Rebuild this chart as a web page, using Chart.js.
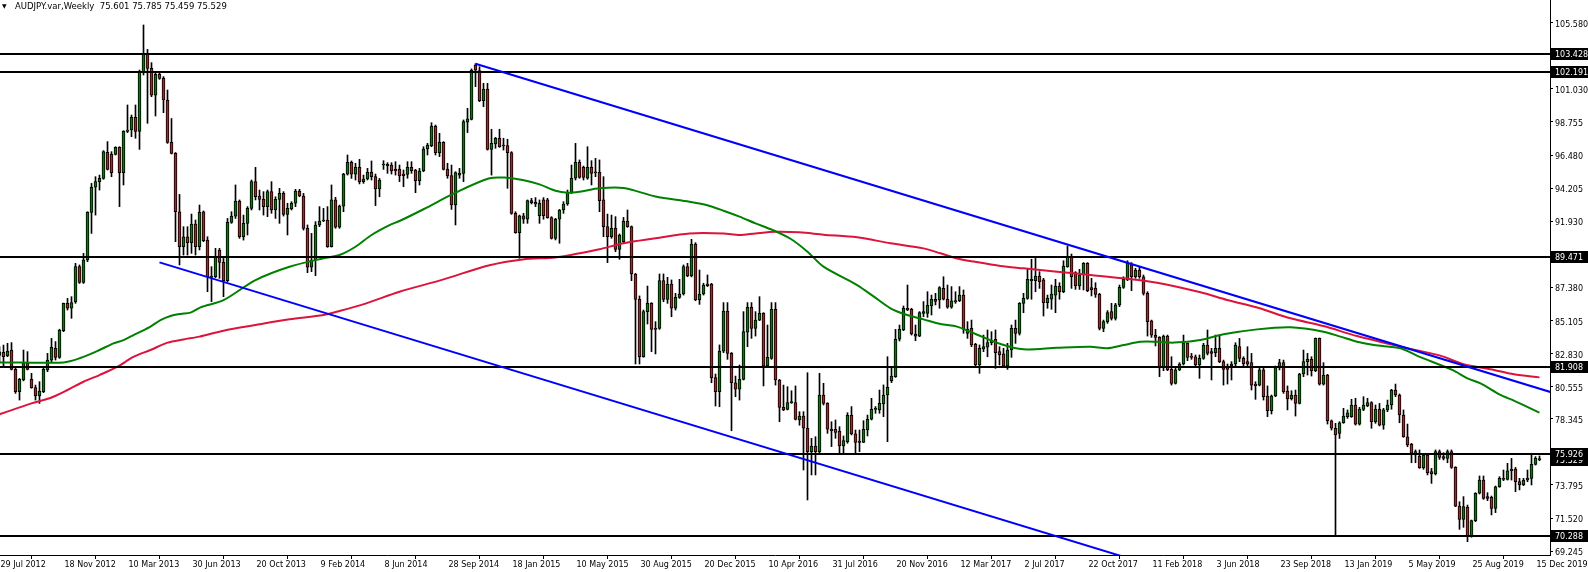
<!DOCTYPE html>
<html>
<head>
<meta charset="utf-8">
<title>AUDJPY.var Weekly</title>
<script src="https://cdn.jsdelivr.net/npm/chart.js@4.4.1/dist/chart.umd.min.js"></script>
<style>
  html, body { margin: 0; padding: 0; background: #fff; }
  #wrap { position: relative; width: 1588px; height: 572px; }
  #header {
    position: absolute; left: 15px; top: 0; line-height: 12px;
    font-family: "DejaVu Sans", sans-serif; font-size: 8.5px; color: #000; white-space: pre;
  }
  #tri {
    position: absolute; left: 2px; top: 0; line-height: 12px;
    font-family: "DejaVu Sans", sans-serif; font-size: 6px; color: #000;
  }
</style>
</head>
<body>
<div id="wrap">
  <canvas id="chart" width="1588" height="572"></canvas>
  <div id="tri">▼</div>
  <div id="header">AUDJPY.var,Weekly  75.601 75.785 75.459 75.529</div>
</div>
<script>
// weekly bars, index 0 = week of 29 Jul 2012
const xTickBars = [0, 16, 32, 48, 64, 80, 96, 112, 128, 144, 160, 176, 192, 208, 224, 240, 256, 272, 288, 304, 320, 336, 352, 368, 384];
const xTickLabels = ['29 Jul 2012', '18 Nov 2012', '10 Mar 2013', '30 Jun 2013', '20 Oct 2013', '9 Feb 2014', '8 Jun 2014',
  '28 Sep 2014', '18 Jan 2015', '10 May 2015', '30 Aug 2015', '20 Dec 2015', '10 Apr 2016', '31 Jul 2016', '20 Nov 2016',
  '12 Mar 2017', '2 Jul 2017', '22 Oct 2017', '11 Feb 2018', '3 Jun 2018', '23 Sep 2018', '13 Jan 2019', '5 May 2019',
  '25 Aug 2019', '15 Dec 2019'];
const yTickValues = [105.580, 101.030, 98.755, 96.480, 94.205, 91.930, 87.380, 85.105, 82.830, 80.555, 78.345, 73.795, 71.520, 69.245];
const levels = [103.428, 102.191, 89.471, 81.908, 75.926, 70.288];
const bidPrice = 75.529;

const opens = [
  82.70, 82.91, 82.66, 83.07, 81.74, 80.21, 81.01, 82.15, 81.05, 80.48,
  79.91, 80.21, 81.70, 82.38, 83.19, 82.57, 84.40, 86.28, 85.94, 86.39,
  88.80, 87.72, 89.26, 92.54, 94.26, 94.65, 94.87, 96.66, 96.52, 96.52,
  97.00, 95.26, 98.11, 98.20, 99.07, 98.11, 102.21, 103.40, 102.44, 100.60,
  102.03, 101.75, 100.26, 97.35, 96.59, 92.58, 90.18, 90.86, 90.45, 91.73,
  90.18, 92.58, 90.63, 88.11, 88.11, 89.95, 89.10, 87.84, 91.85, 92.28,
  93.32, 90.86, 91.78, 92.81, 94.65, 93.66, 93.43, 92.93, 93.96, 92.70,
  93.43, 93.84, 92.40, 92.77, 93.16, 94.00, 93.66, 91.44, 88.76, 89.26,
  91.67, 91.94, 92.01, 90.18, 93.39, 91.51, 92.97, 95.17, 95.98, 95.17,
  95.63, 94.65, 94.83, 95.29, 94.99, 94.14, 95.79, 95.75, 95.79, 95.49,
  95.52, 95.17, 95.15, 95.63, 95.45, 94.72, 95.38, 96.89, 97.10, 98.47,
  96.64, 97.35, 95.52, 95.06, 93.04, 95.10, 95.22, 98.73, 98.93, 102.67,
  102.28, 100.22, 101.02, 96.87, 97.24, 97.63, 97.12, 97.12, 96.64, 92.47,
  91.14, 92.29, 92.06, 93.34, 93.22, 92.31, 93.39, 93.39, 92.17, 90.75,
  92.06, 92.70, 93.11, 93.89, 94.88, 95.98, 95.63, 94.88, 95.63, 95.26,
  95.29, 93.39, 91.55, 90.86, 91.44, 89.99, 90.52, 91.94, 91.55, 88.30,
  86.55, 82.61, 85.71, 86.28, 84.56, 84.56, 87.84, 86.55, 87.61, 85.94,
  86.69, 86.92, 88.80, 88.16, 90.36, 86.51, 86.92, 87.61, 87.61, 81.17,
  80.21, 83.00, 85.75, 82.84, 80.82, 80.37, 81.05, 84.29, 86.00, 84.56,
  85.13, 85.59, 81.97, 82.50, 85.87, 81.01, 79.13, 78.99, 79.45, 79.45,
  78.26, 78.53, 77.69, 76.08, 76.47, 76.08, 79.98, 79.40, 77.62, 77.62,
  77.50, 76.47, 76.77, 78.58, 77.30, 76.81, 76.72, 77.57, 78.31, 78.99,
  78.95, 79.36, 79.98, 80.96, 81.24, 83.81, 84.45, 85.94, 85.87, 84.17,
  84.03, 85.59, 85.59, 86.10, 86.56, 86.51, 87.31, 86.56, 86.01, 86.46,
  86.46, 86.85, 84.22, 84.56, 83.46, 82.04, 83.14, 83.26, 83.58, 83.81,
  82.96, 82.80, 81.97, 83.07, 84.56, 84.22, 86.28, 86.62, 87.84, 87.84,
  88.16, 87.89, 86.33, 86.56, 86.85, 87.47, 87.08, 88.80, 89.49, 88.39,
  87.47, 88.23, 89.03, 87.36, 87.31, 86.90, 84.56, 85.02, 85.71, 85.25,
  86.17, 87.38, 87.89, 88.92, 88.11, 88.57, 88.11, 86.97, 85.07, 84.10,
  83.94, 81.93, 84.03, 81.74, 80.78, 81.70, 82.11, 83.53, 82.66, 82.61,
  82.04, 82.50, 83.41, 82.96, 82.89, 83.19, 82.27, 81.97, 81.97, 82.11,
  83.30, 82.50, 82.27, 82.20, 80.73, 80.66, 81.70, 79.91, 78.90, 79.91,
  81.86, 82.20, 80.25, 79.70, 79.98, 79.40, 81.42, 82.27, 82.43, 81.65,
  83.87, 80.73, 81.35, 78.21, 77.69, 77.34, 78.07, 78.49, 78.49, 79.29,
  77.98, 78.99, 79.22, 79.45, 78.14, 79.01, 77.91, 78.95, 79.29, 80.32,
  79.98, 78.60, 77.11, 76.61, 75.85, 75.78, 74.98, 75.85, 74.71, 74.55,
  76.08, 75.74, 75.62, 76.08, 75.00, 72.34, 71.43, 72.25, 70.28, 71.34,
  73.22, 74.13, 72.87, 72.94, 72.18, 73.67, 74.25, 74.18, 74.77, 74.89,
  74.02, 73.79, 74.13, 74.25, 75.21, 75.601
];
const highs = [
  83.30, 83.41, 83.53, 83.58, 81.81, 81.12, 83.07, 82.96, 81.47, 80.66,
  80.89, 81.81, 82.84, 83.87, 83.65, 84.50, 86.30, 86.62, 86.74, 89.03,
  88.92, 89.72, 92.58, 94.53, 94.99, 95.10, 96.78, 97.40, 96.71, 97.05,
  97.05, 98.15, 99.92, 99.23, 99.92, 102.32, 105.42, 103.74, 102.83, 102.21,
  102.14, 101.87, 100.95, 98.99, 96.65, 93.77, 91.55, 91.55, 92.42, 92.01,
  93.04, 92.63, 90.86, 88.80, 90.06, 90.06, 89.37, 92.12, 92.58, 94.42,
  93.39, 92.35, 92.93, 94.76, 95.63, 94.07, 93.96, 94.07, 94.65, 93.61,
  94.19, 93.96, 93.16, 93.27, 94.12, 94.12, 93.84, 91.67, 91.09, 91.90,
  92.93, 92.81, 92.93, 94.42, 93.57, 93.04, 95.22, 96.48, 96.07, 95.91,
  96.18, 95.10, 95.56, 96.07, 95.17, 94.87, 96.09, 95.95, 95.95, 96.02,
  95.79, 95.45, 96.02, 96.02, 95.49, 95.56, 97.05, 97.28, 98.70, 98.54,
  97.97, 97.40, 95.91, 95.79, 95.33, 95.56, 98.89, 99.69, 102.40, 102.76,
  102.55, 101.41, 101.41, 98.25, 97.69, 98.25, 97.63, 97.56, 96.71, 92.58,
  92.35, 92.47, 93.39, 93.50, 93.55, 93.39, 93.55, 93.50, 92.24, 92.13,
  92.74, 93.27, 94.07, 95.79, 97.28, 96.14, 95.72, 97.05, 96.09, 96.25,
  96.14, 94.99, 92.42, 92.35, 92.24, 91.05, 92.19, 92.70, 91.60, 88.34,
  86.79, 85.82, 87.47, 86.33, 85.02, 88.30, 88.30, 88.07, 87.89, 86.97,
  87.93, 88.92, 89.03, 90.68, 90.45, 88.57, 87.66, 88.23, 87.66, 81.42,
  83.42, 86.33, 86.33, 82.90, 81.28, 82.04, 85.71, 86.33, 86.33, 85.71,
  86.74, 85.64, 84.79, 86.33, 86.33, 81.05, 80.66, 80.55, 80.27, 80.60,
  78.83, 78.83, 81.51, 77.00, 77.11, 81.47, 80.78, 79.45, 78.14, 78.26,
  77.80, 77.16, 78.76, 79.18, 77.57, 77.57, 78.21, 78.60, 79.75, 79.18,
  80.32, 80.67, 82.61, 81.81, 84.49, 84.79, 86.10, 87.54, 85.94, 84.79,
  85.71, 86.40, 87.08, 86.85, 86.97, 87.43, 88.11, 87.54, 87.43, 87.08,
  87.43, 87.20, 85.02, 85.13, 83.53, 83.42, 84.10, 84.45, 84.33, 84.45,
  83.30, 83.19, 83.53, 84.79, 85.13, 86.33, 86.97, 88.62, 89.31, 89.37,
  88.46, 88.00, 86.85, 87.54, 87.93, 87.70, 89.21, 90.22, 89.67, 88.46,
  88.62, 89.08, 89.08, 88.00, 87.70, 86.97, 85.13, 85.78, 86.28, 86.28,
  87.54, 88.11, 89.21, 89.08, 88.69, 88.80, 88.23, 87.08, 85.13, 84.49,
  83.99, 84.10, 84.10, 82.61, 81.81, 82.20, 84.10, 83.55, 82.84, 82.73,
  82.73, 83.53, 84.45, 83.19, 84.10, 84.10, 82.38, 82.11, 82.27, 83.57,
  83.87, 82.61, 83.30, 82.84, 80.89, 81.81, 81.81, 80.60, 79.98, 81.97,
  82.43, 82.38, 80.60, 80.27, 80.32, 81.47, 83.07, 82.84, 82.61, 83.90,
  83.90, 82.20, 81.40, 78.26, 78.03, 78.14, 79.06, 78.95, 79.68, 79.75,
  79.13, 79.86, 79.75, 79.52, 79.29, 79.40, 79.06, 79.63, 80.37, 80.73,
  80.05, 78.95, 77.98, 76.65, 76.20, 76.20, 75.92, 75.97, 74.93, 76.20,
  76.20, 76.01, 76.20, 76.20, 75.05, 72.64, 72.99, 72.41, 71.38, 73.26,
  74.41, 74.41, 73.26, 73.03, 73.72, 74.36, 74.82, 75.28, 75.62, 75.00,
  74.25, 74.25, 74.82, 75.97, 75.74, 75.785
];
const lows = [
  82.20, 81.93, 82.61, 81.70, 80.09, 79.63, 80.95, 81.70, 80.44, 79.63,
  79.40, 80.14, 81.58, 82.27, 82.38, 82.50, 84.33, 85.82, 85.25, 86.28,
  87.65, 87.65, 89.14, 91.09, 92.35, 94.07, 94.81, 95.45, 94.99, 96.48,
  92.93, 94.42, 98.02, 97.74, 97.63, 96.87, 101.98, 98.66, 100.49, 99.16,
  101.68, 99.39, 97.28, 96.55, 90.52, 88.92, 89.60, 89.60, 89.72, 89.60,
  89.95, 90.52, 87.08, 86.40, 88.05, 88.00, 86.74, 87.77, 91.78, 92.12,
  90.75, 90.63, 90.98, 92.70, 93.39, 92.70, 92.35, 92.24, 92.47, 92.12,
  91.78, 92.28, 90.98, 92.70, 92.93, 93.61, 91.32, 88.39, 88.46, 88.18,
  91.55, 91.90, 90.13, 90.15, 91.44, 91.44, 92.58, 95.10, 94.87, 94.76,
  94.49, 94.53, 94.76, 94.76, 93.00, 93.61, 95.49, 95.22, 95.17, 95.10,
  94.65, 94.30, 94.88, 95.22, 93.89, 94.42, 95.33, 96.48, 97.05, 96.48,
  96.37, 95.45, 94.88, 92.74, 91.67, 94.88, 94.65, 98.02, 98.89, 101.18,
  100.15, 99.80, 96.82, 95.10, 96.94, 97.01, 96.82, 94.19, 92.40, 91.10,
  89.38, 91.78, 91.78, 93.11, 92.93, 91.78, 92.06, 92.13, 90.70, 90.64,
  90.41, 92.47, 93.02, 93.84, 94.76, 94.88, 94.76, 94.81, 94.42, 94.99,
  92.58, 90.86, 89.08, 90.75, 89.83, 89.31, 90.45, 91.51, 87.84, 82.11,
  82.11, 82.57, 84.86, 82.96, 82.80, 84.49, 86.39, 86.28, 85.36, 85.82,
  86.62, 86.85, 88.11, 88.10, 86.46, 86.21, 86.85, 87.43, 80.82, 79.22,
  79.17, 82.89, 82.43, 77.52, 79.86, 79.63, 81.01, 83.30, 83.87, 84.03,
  85.09, 80.60, 81.92, 82.43, 80.66, 78.14, 78.90, 78.95, 79.40, 78.26,
  77.90, 74.82, 72.76, 74.48, 74.48, 76.01, 79.29, 77.34, 76.43, 77.00,
  75.97, 76.01, 76.66, 77.23, 76.01, 76.08, 76.70, 77.16, 78.26, 78.72,
  78.72, 78.49, 76.77, 80.83, 81.19, 83.69, 84.40, 85.78, 84.10, 83.71,
  83.99, 85.36, 85.32, 85.48, 86.17, 85.94, 86.51, 85.94, 85.94, 86.28,
  86.40, 84.22, 83.87, 83.30, 81.93, 81.47, 82.96, 82.61, 83.42, 81.81,
  82.04, 81.93, 81.74, 82.57, 83.53, 84.10, 85.64, 86.56, 86.56, 87.08,
  87.31, 85.41, 85.94, 85.87, 85.64, 86.56, 87.01, 88.76, 87.31, 87.24,
  87.24, 87.20, 87.08, 86.79, 86.69, 84.45, 84.33, 84.90, 85.13, 85.13,
  86.05, 87.31, 87.84, 87.15, 88.00, 88.00, 86.85, 84.03, 83.94, 83.35,
  81.24, 81.65, 81.65, 80.66, 80.73, 81.65, 82.04, 82.34, 82.43, 81.97,
  81.12, 82.43, 82.73, 81.01, 82.61, 82.20, 80.66, 80.73, 81.01, 81.97,
  82.27, 81.93, 81.97, 80.32, 79.68, 80.60, 79.63, 78.49, 78.67, 79.86,
  81.70, 80.09, 78.95, 79.63, 78.53, 79.36, 81.24, 81.35, 81.28, 81.58,
  80.66, 80.66, 77.98, 77.57, 70.35, 76.99, 78.03, 78.37, 78.44, 77.91,
  77.91, 78.90, 79.17, 77.69, 78.03, 77.85, 77.62, 78.83, 79.00, 79.86,
  78.07, 77.07, 76.42, 75.32, 75.32, 74.93, 74.87, 74.48, 73.90, 74.48,
  75.55, 75.51, 75.32, 74.93, 72.30, 70.74, 70.88, 69.89, 70.20, 71.27,
  73.17, 72.80, 72.71, 71.73, 71.89, 73.63, 74.09, 74.13, 74.13, 73.33,
  73.45, 73.75, 74.02, 73.79, 75.16, 75.459
];
const closes = [
  82.95, 82.61, 83.00, 81.74, 80.21, 81.05, 82.15, 81.74, 80.48, 79.91,
  80.25, 81.74, 82.38, 83.25, 82.57, 84.45, 86.28, 85.94, 86.33, 88.80,
  87.72, 89.26, 92.54, 94.26, 94.65, 94.87, 96.71, 95.49, 95.26, 97.00,
  95.26, 98.11, 98.20, 99.07, 98.11, 102.21, 103.40, 102.44, 100.60, 102.03,
  101.75, 100.26, 97.35, 96.59, 92.58, 90.18, 90.86, 90.45, 91.73, 90.18,
  92.54, 90.59, 88.11, 88.07, 89.49, 89.10, 87.84, 91.85, 92.28, 93.32,
  90.86, 91.78, 92.81, 94.65, 93.61, 93.43, 92.93, 93.96, 92.70, 93.43,
  93.84, 92.40, 92.81, 93.16, 94.00, 93.66, 91.44, 88.76, 89.26, 91.67,
  91.94, 92.01, 90.18, 93.39, 91.51, 92.97, 95.17, 95.98, 95.17, 95.63,
  94.65, 94.83, 95.29, 94.99, 94.14, 94.76, 95.80, 95.84, 95.38, 95.40,
  95.04, 95.06, 95.63, 95.40, 94.72, 95.38, 96.89, 97.17, 98.47, 96.64,
  97.35, 95.49, 95.04, 93.04, 95.27, 95.22, 98.77, 98.96, 102.32, 102.32,
  100.22, 101.02, 96.87, 97.28, 97.63, 97.05, 97.10, 96.64, 92.47, 91.14,
  92.29, 92.06, 93.34, 93.20, 93.11, 93.16, 92.31, 92.17, 90.75, 92.06,
  92.70, 93.11, 93.89, 94.88, 95.98, 94.94, 94.94, 95.63, 95.22, 95.29,
  93.34, 91.55, 90.86, 91.44, 89.99, 90.98, 91.94, 91.55, 88.30, 86.55,
  82.61, 85.71, 86.28, 84.49, 84.49, 87.84, 86.55, 87.61, 85.94, 86.69,
  86.92, 88.80, 88.16, 90.36, 86.51, 86.92, 87.54, 87.50, 81.17, 80.21,
  83.00, 85.75, 82.84, 80.82, 80.37, 81.05, 84.33, 86.00, 84.56, 85.13,
  85.59, 81.97, 82.57, 85.87, 81.01, 79.13, 78.95, 79.45, 79.46, 78.30,
  78.53, 77.69, 76.08, 76.47, 76.08, 79.98, 79.40, 77.62, 77.52, 77.41,
  76.47, 76.84, 78.58, 77.30, 76.72, 76.72, 77.62, 78.31, 78.99, 79.00,
  79.40, 79.98, 80.51, 81.28, 83.81, 84.49, 85.94, 85.82, 84.17, 84.03,
  85.64, 85.71, 86.14, 86.56, 86.42, 87.36, 86.56, 86.01, 86.46, 86.40,
  86.85, 84.49, 84.49, 83.42, 82.04, 83.19, 83.30, 83.58, 83.69, 82.89,
  82.73, 81.97, 83.07, 84.56, 84.22, 86.28, 86.62, 87.93, 87.93, 88.16,
  87.77, 86.33, 86.62, 86.92, 87.47, 87.08, 88.85, 89.49, 88.11, 87.47,
  88.23, 89.03, 87.15, 87.20, 86.90, 84.56, 85.02, 85.64, 85.25, 86.17,
  87.38, 87.93, 89.03, 88.11, 88.57, 88.11, 86.97, 85.02, 84.10, 83.94,
  81.93, 84.03, 81.70, 80.78, 81.70, 82.11, 83.53, 82.57, 82.57, 82.04,
  82.50, 83.41, 82.84, 82.84, 83.19, 82.27, 81.74, 81.74, 82.11, 83.41,
  82.50, 82.11, 82.09, 80.66, 80.62, 81.70, 79.86, 78.90, 79.91, 81.86,
  82.20, 80.21, 79.70, 79.98, 79.40, 81.42, 82.27, 82.43, 81.65, 83.87,
  80.73, 81.35, 78.21, 77.69, 77.23, 78.07, 78.53, 78.76, 79.29, 77.98,
  79.01, 79.29, 79.45, 78.14, 79.01, 77.91, 78.95, 79.29, 80.32, 79.98,
  78.60, 77.11, 76.54, 75.97, 76.08, 74.98, 75.85, 74.64, 74.55, 76.08,
  75.69, 75.62, 76.08, 75.00, 72.34, 71.43, 72.30, 70.28, 71.34, 73.22,
  74.13, 72.87, 72.99, 72.18, 73.67, 74.25, 74.18, 74.77, 74.89, 74.02,
  73.79, 74.13, 74.25, 75.21, 75.62, 75.529
];

// moving averages (bar index, price)
const maGreenBars = [0, 16, 20, 25, 28.5, 31, 33.5, 35.25, 37.75, 40.25, 42.75, 45.25, 47.75, 50.25, 56, 64, 72.5, 81, 85, 89, 93,
  97.5, 100, 106, 114, 122.5, 126.7, 130.8, 135, 139, 142, 145, 150, 156, 164, 172.5, 176.7, 181, 185, 189, 193.3, 197.75,
  202, 206, 214.4, 218.6, 222.75, 226.9, 231, 235.25, 239.4, 243.6, 250.25, 256, 264.4, 272.75, 276.9, 281, 285.25, 289.4,
  293.6, 300.25, 306, 314.4, 322.75, 331, 335.25, 339.4, 343.6, 350.25, 354.75, 363.2, 367, 370.25, 375.25, 378.6, 385];
const maGreenValues = [82.22, 82.22, 82.50, 83.07, 83.53, 83.75, 84.10, 84.33, 84.68, 85.13, 85.41, 85.55, 85.64, 86.00, 86.50, 87.88, 88.80, 89.38, 89.60, 90.17, 90.98,
  91.66, 91.94, 92.75, 93.89, 94.88, 94.92, 94.76, 94.46, 94.02, 93.89, 93.96, 94.19, 94.21, 93.63, 93.27, 93.04, 92.65, 92.24, 91.78, 91.32, 90.72,
  89.83, 88.80, 87.54, 86.74, 85.94, 85.48, 85.18, 84.86, 84.68, 84.22, 83.48, 83.12, 83.23, 83.30, 83.19, 83.41, 83.64, 83.64,
  83.58, 83.76, 84.15, 84.49, 84.63, 84.33, 83.99, 83.64, 83.41, 83.19, 82.63, 81.70, 81.12, 80.78, 79.98, 79.59, 78.76];
const maRedBars = [0, 8, 12.5, 17, 21, 25, 29.4, 33.6, 37.75, 42, 46, 50, 56, 64, 72.5, 81, 85, 91.7, 100, 110.8, 122.5, 130.8, 139,
  144, 150, 156, 164, 172.5, 181, 185, 189, 194, 200, 206, 214.4, 222.75, 231, 235.25, 239.4, 243.6, 250.25, 256, 264.4,
  272.75, 281, 289.4, 300.25, 306.9, 314.4, 322.75, 331, 339.4, 350.25, 360, 366, 372.75, 378.6, 385];
const maRedValues = [78.65, 79.40, 79.75, 80.32, 80.89, 81.35, 81.91, 82.61, 83.07, 83.58, 83.80, 83.99, 84.40, 84.79, 85.18, 85.48, 85.75, 86.28, 87.08, 87.91, 88.90, 89.30, 89.44,
  89.67, 90.00, 90.41, 90.75, 91.09, 91.09, 90.98, 91.09, 91.20, 91.16, 91.00, 90.82, 90.41, 90.06, 89.72, 89.37, 89.15, 88.85, 88.69, 88.46,
  88.23, 88.00, 87.70, 87.04, 86.51, 86.00, 85.25, 84.72, 84.03, 83.30, 82.70, 82.10, 81.75, 81.40, 81.19];

// channel lines (bar index, price)
const trendUpperBars = [119, 388];
const trendUpperValues = [102.76, 80.16];
const trendLowerBars = [40, 300];
const trendLowerValues = [89.10, 67.26];

const BULL = '#008000';
const BEAR = '#b22222';
const AXIS_FONT = { family: 'DejaVu Sans', size: 8 };

function points(bars, values) {
  return bars.map((b, k) => ({ x: b, y: values[k] }));
}

const idx = opens.map((_, i) => i);
const bodies = idx.map((i) => ({ x: i, y: [Math.min(opens[i], closes[i]), Math.max(opens[i], closes[i])] }));
const wicks = idx.map((i) => ({ x: i, y: [lows[i], highs[i]] }));
const bodyColors = idx.map((i) => (closes[i] >= opens[i] ? BULL : BEAR));

const levelSets = levels.map((lv) => ({
  type: 'line',
  data: [{ x: -10, y: lv }, { x: 400, y: lv }],
  borderColor: '#000',
  borderWidth: 2,
  pointRadius: 0,
  order: 2,
}));

// axis boxes for the horizontal levels and the bid price
const levelLabels = {
  id: 'levelLabels',
  afterDraw(chart) {
    const { ctx } = chart;
    const y = chart.scales.y;
    ctx.save();
    ctx.font = '8px "DejaVu Sans"';
    ctx.textBaseline = 'middle';
    ctx.textAlign = 'left';
    [bidPrice, ...levels].forEach((v) => {
      const py = Math.round(y.getPixelForValue(v));
      ctx.fillStyle = '#000';
      ctx.fillRect(1551, py - 6, 37, 12);
      ctx.fillStyle = '#fff';
      ctx.fillText(v.toFixed(3), 1555, py + 0.5);
    });
    ctx.restore();
  },
};

new Chart(document.getElementById('chart').getContext('2d'), {
  type: 'bar',
  data: {
    datasets: [
      {
        type: 'line', data: points(trendUpperBars, trendUpperValues),
        borderColor: '#0000ff', borderWidth: 2, pointRadius: 0, order: 1,
      },
      {
        type: 'line', data: points(trendLowerBars, trendLowerValues),
        borderColor: '#0000ff', borderWidth: 2, pointRadius: 0, order: 1,
      },
      ...levelSets,
      {
        type: 'line', data: points(maGreenBars, maGreenValues),
        borderColor: '#008000', borderWidth: 2, pointRadius: 0, tension: 0.3, order: 3,
      },
      {
        type: 'line', data: points(maRedBars, maRedValues),
        borderColor: '#dc143c', borderWidth: 2, pointRadius: 0, tension: 0.3, order: 4,
      },
      {
        type: 'bar', data: bodies, grouped: false, barThickness: 3, minBarLength: 1,
        backgroundColor: bodyColors, borderColor: '#000', borderWidth: 1, borderSkipped: false, order: 5,
      },
      {
        type: 'bar', data: wicks, grouped: false, barThickness: 1,
        backgroundColor: '#000', borderWidth: 0, order: 6,
      },
    ],
  },
  options: {
    responsive: false,
    animation: false,
    events: [],
    layout: { padding: 0 },
    plugins: {
      legend: { display: false },
      tooltip: { enabled: false },
    },
    scales: {
      x: {
        type: 'linear',
        min: 0.125,
        max: 387.625,
        offset: false,
        grid: { display: true, drawOnChartArea: false, drawTicks: true, tickLength: 4, color: '#000' },
        border: { display: true, color: '#000', width: 1 },
        afterBuildTicks(scale) {
          scale.ticks = xTickBars.map((v) => ({ value: v }));
        },
        afterFit(scale) {
          scale.height = 17;
          scale.paddingLeft = 0;
          scale.paddingRight = 0;
        },
        ticks: {
          autoSkip: false,
          maxRotation: 0,
          minRotation: 0,
          align: 'start',
          labelOffset: 1,
          padding: 1,
          color: '#000',
          font: AXIS_FONT,
          callback(value, index) {
            return xTickLabels[index];
          },
        },
      },
      y: {
        type: 'linear',
        position: 'right',
        min: 68.976,
        max: 107.138,
        grid: { display: true, drawOnChartArea: false, drawTicks: true, tickLength: 3, color: '#000' },
        border: { display: true, color: '#000', width: 1 },
        afterBuildTicks(scale) {
          scale.ticks = yTickValues.map((v) => ({ value: v }));
        },
        afterFit(scale) {
          scale.width = 38;
          scale.paddingTop = 0;
          scale.paddingBottom = 0;
        },
        ticks: {
          padding: 2,
          labelOffset: 2,
          color: '#000',
          font: AXIS_FONT,
          callback(value) {
            return Number(value).toFixed(3);
          },
        },
      },
    },
  },
  plugins: [levelLabels],
});
</script>
</body>
</html>
